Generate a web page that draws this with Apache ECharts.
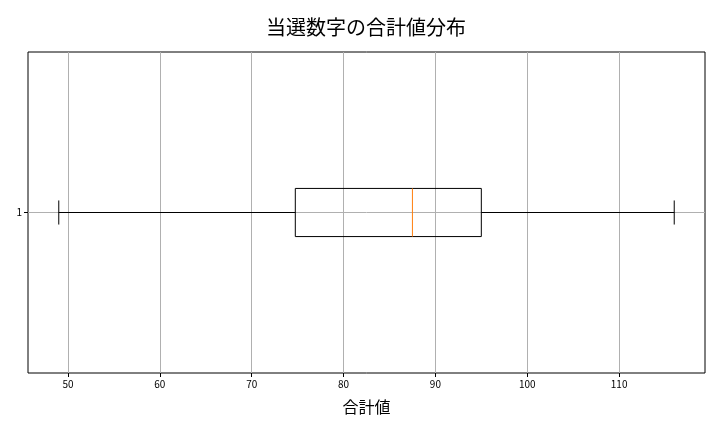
<!DOCTYPE html>
<html>
<head>
    <meta charset="UTF-8">
    <title>当選数字の合計値分布</title>
    <script src="https://cdn.jsdelivr.net/npm/echarts/dist/echarts.min.js"></script>
    <style>
        html, body { margin: 0; padding: 0; background: #fff; }
        #main { width: 720px; height: 432px; }
    </style>
</head>
<body>
    <div id="main"></div>
    <script type="text/javascript">
        // box statistics
        const categories = ['1'];
        const whiskerLow = [49];
        const q1 = [74.75];
        const median = [87.5];
        const q3 = [95];
        const whiskerHigh = [116];
        const xTicks = [50, 60, 70, 80, 90, 100, 110];

        const font = '"Noto Sans CJK JP", "Noto Sans", sans-serif';

        // one row per box: [position, low, q1, median, q3, high]
        let boxData = categories.map((c, i) => [i + 1, whiskerLow[i], q1[i], median[i], q3[i], whiskerHigh[i]]);

        function renderBox(params, api) {
            let y = api.value(0);
            let half = 0.075;      // half box height, axis units
            let capHalf = half / 2;
            let pt = (x, yy) => api.coord([x, yy]);
            let black = { stroke: '#000', lineWidth: 1, fill: null };

            let a = pt(api.value(2), y - half);
            let b = pt(api.value(4), y + half);
            let lo = pt(api.value(1), y);
            let hi = pt(api.value(5), y);
            let boxL = pt(api.value(2), y);
            let boxR = pt(api.value(4), y);
            let capLoA = pt(api.value(1), y - capHalf), capLoB = pt(api.value(1), y + capHalf);
            let capHiA = pt(api.value(5), y - capHalf), capHiB = pt(api.value(5), y + capHalf);
            let medA = pt(api.value(3), y - half), medB = pt(api.value(3), y + half);

            return {
                type: 'group',
                children: [
                    { type: 'rect', shape: { x: a[0], y: Math.min(a[1], b[1]), width: b[0] - a[0], height: Math.abs(b[1] - a[1]) }, style: black },
                    { type: 'line', shape: { x1: lo[0], y1: lo[1], x2: boxL[0], y2: boxL[1] }, style: black },
                    { type: 'line', shape: { x1: boxR[0], y1: boxR[1], x2: hi[0], y2: hi[1] }, style: black },
                    { type: 'line', shape: { x1: capLoA[0], y1: capLoA[1], x2: capLoB[0], y2: capLoB[1] }, style: black },
                    { type: 'line', shape: { x1: capHiA[0], y1: capHiA[1], x2: capHiB[0], y2: capHiB[1] }, style: black },
                    { type: 'line', shape: { x1: medA[0], y1: medA[1], x2: medB[0], y2: medB[1] }, style: { stroke: '#ff7f0e', lineWidth: 1 } }
                ]
            };
        }

        let chart = echarts.init(document.getElementById('main'));

        let option = {
            animation: false,
            backgroundColor: '#fff',
            title: {
                text: '当選数字の合計値分布',
                left: 361,
                top: 12,
                textAlign: 'center',
                textStyle: { fontFamily: font, fontSize: 20, fontWeight: 'normal', color: '#000' }
            },
            grid: {
                left: 28,
                right: 15,
                top: 52,
                bottom: 59,
                show: true,
                borderColor: '#000',
                borderWidth: 1,
                backgroundColor: 'transparent'
            },
            xAxis: {
                type: 'value',
                min: 45.65,
                max: 119.35,
                name: '合計値',
                nameLocation: 'middle',
                nameGap: 26,
                nameTextStyle: { fontFamily: font, fontSize: 16, color: '#000' },
                axisLine: { show: false },
                axisTick: { show: true, customValues: xTicks, length: 4, lineStyle: { color: '#000' } },
                axisLabel: { customValues: xTicks, margin: 6, fontFamily: font, fontSize: 10, color: '#000' },
                splitLine: { show: true, lineStyle: { color: '#b0b0b0', width: 1 } }
            },
            yAxis: {
                type: 'value',
                min: 0.5,
                max: 1.5,
                axisLine: { show: false },
                axisTick: { show: true, customValues: [1], length: 4, lineStyle: { color: '#000' } },
                axisLabel: {
                    customValues: [1],
                    margin: 6,
                    fontFamily: font,
                    fontSize: 10,
                    color: '#000',
                    formatter: v => categories[Math.round(v) - 1]
                },
                splitLine: { show: true, lineStyle: { color: '#b0b0b0', width: 1 } }
            },
            series: [{
                type: 'custom',
                renderItem: renderBox,
                encode: { x: [1, 2, 3, 4, 5], y: 0 },
                data: boxData,
                z: 5
            }]
        };

        chart.setOption(option);
    </script>
</body>
</html>
